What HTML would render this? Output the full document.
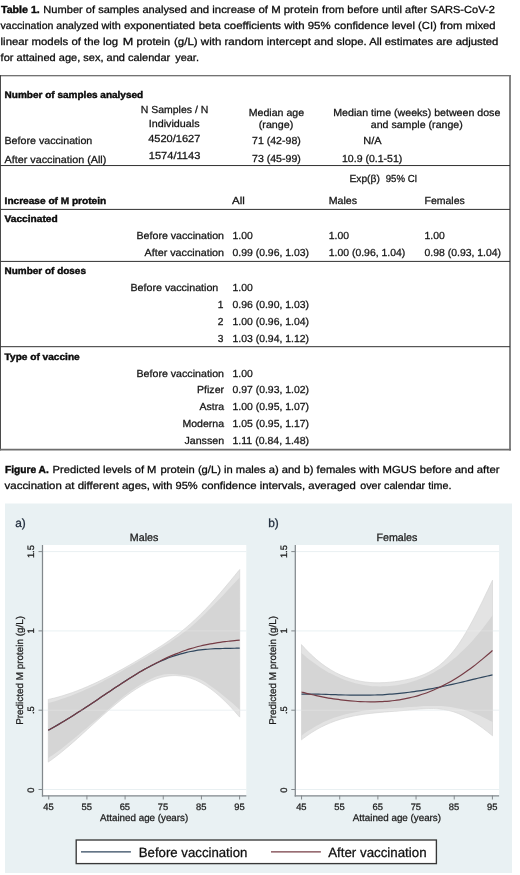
<!DOCTYPE html>
<html lang="en"><head><meta charset="utf-8"><title>Table 1 and Figure A</title>
<style>
html,body{margin:0;padding:0;background:#fff;}
body{width:520px;height:875px;overflow:hidden;}
svg{display:block;font-family:"Liberation Sans",sans-serif;text-rendering:geometricPrecision;filter:blur(0.35px);}
</style></head><body>
<svg width="520" height="875" viewBox="0 0 520 875">
<text x="1.00" y="12.80" font-size="10.3" font-weight="bold" textLength="38.75" lengthAdjust="spacingAndGlyphs" stroke="#0a0a0a" stroke-width="0.41" fill="#0a0a0a">Table 1.</text>
<text x="43.35" y="12.80" font-size="10.3" textLength="143.45" lengthAdjust="spacingAndGlyphs" stroke="#0a0a0a" stroke-width="0.27" fill="#0a0a0a">Number of samples analysed</text>
<text x="190.20" y="12.80" font-size="10.3" textLength="128.40" lengthAdjust="spacingAndGlyphs" stroke="#0a0a0a" stroke-width="0.27" fill="#0a0a0a">and increase of M protein</text>
<text x="322.10" y="12.80" font-size="10.3" textLength="172.70" lengthAdjust="spacingAndGlyphs" stroke="#0a0a0a" stroke-width="0.27" fill="#0a0a0a">from before until after SARS-CoV-2</text>
<text x="0.60" y="29.00" font-size="10.3" textLength="98.00" lengthAdjust="spacingAndGlyphs" stroke="#0a0a0a" stroke-width="0.27" fill="#0a0a0a">vaccination analyzed</text>
<text x="101.50" y="29.00" font-size="10.3" textLength="19.30" lengthAdjust="spacingAndGlyphs" stroke="#0a0a0a" stroke-width="0.27" fill="#0a0a0a">with</text>
<text x="124.00" y="29.00" font-size="10.3" textLength="70.95" lengthAdjust="spacingAndGlyphs" stroke="#0a0a0a" stroke-width="0.27" fill="#0a0a0a">exponentiated</text>
<text x="198.70" y="29.00" font-size="10.3" textLength="131.90" lengthAdjust="spacingAndGlyphs" stroke="#0a0a0a" stroke-width="0.27" fill="#0a0a0a">beta coefficients with 95%</text>
<text x="334.35" y="29.00" font-size="10.3" textLength="161.25" lengthAdjust="spacingAndGlyphs" stroke="#0a0a0a" stroke-width="0.27" fill="#0a0a0a">confidence level (CI) from mixed</text>
<text x="0.60" y="45.10" font-size="10.3" textLength="117.60" lengthAdjust="spacingAndGlyphs" stroke="#0a0a0a" stroke-width="0.27" fill="#0a0a0a">linear models of the log</text>
<text x="122.70" y="45.10" font-size="10.3" textLength="10.50" lengthAdjust="spacingAndGlyphs" stroke="#0a0a0a" stroke-width="0.27" fill="#0a0a0a">M</text>
<text x="136.50" y="45.10" font-size="10.3" textLength="33.70" lengthAdjust="spacingAndGlyphs" stroke="#0a0a0a" stroke-width="0.27" fill="#0a0a0a">protein</text>
<text x="174.00" y="45.10" font-size="10.3" textLength="159.30" lengthAdjust="spacingAndGlyphs" stroke="#0a0a0a" stroke-width="0.27" fill="#0a0a0a">(g/L) with random intercept and</text>
<text x="336.50" y="45.10" font-size="10.3" textLength="161.90" lengthAdjust="spacingAndGlyphs" stroke="#0a0a0a" stroke-width="0.27" fill="#0a0a0a">slope. All estimates are adjusted</text>
<text x="0.60" y="61.30" font-size="10.3" textLength="169.60" lengthAdjust="spacingAndGlyphs" stroke="#0a0a0a" stroke-width="0.27" fill="#0a0a0a">for attained age, sex, and calendar</text>
<text x="175.20" y="61.30" font-size="10.3" textLength="23.75" lengthAdjust="spacingAndGlyphs" stroke="#0a0a0a" stroke-width="0.27" fill="#0a0a0a">year.</text>
<line x1="0" y1="75.8" x2="510.9" y2="75.8" stroke="#444" stroke-width="1.1"/>
<line x1="0.45" y1="75.3" x2="0.45" y2="450.4" stroke="#2a2a2a" stroke-width="0.9"/>
<line x1="510" y1="75.3" x2="510" y2="450.5" stroke="#777" stroke-width="1.8"/>
<line x1="0" y1="449.6" x2="510.9" y2="449.6" stroke="#6e6e6e" stroke-width="1.8"/>
<line x1="0.5" y1="165.55" x2="510" y2="165.55" stroke="#303030" stroke-width="1.0"/>
<line x1="0.5" y1="209.4" x2="510" y2="209.4" stroke="#303030" stroke-width="1.0"/>
<line x1="0.5" y1="261.4" x2="510" y2="261.4" stroke="#303030" stroke-width="1.0"/>
<line x1="0.5" y1="346.7" x2="510" y2="346.7" stroke="#303030" stroke-width="1.0"/>
<text x="4.60" y="98.30" font-size="9.6" font-weight="bold" textLength="138.60" lengthAdjust="spacingAndGlyphs" stroke="#0c0c0c" stroke-width="0.41" fill="#0c0c0c">Number of samples analysed</text>
<text x="140.75" y="113.45" font-size="10.2" textLength="67.55" lengthAdjust="spacingAndGlyphs" stroke="#151515" stroke-width="0.27" fill="#151515">N Samples / N</text>
<text x="148.75" y="126.70" font-size="10.2" textLength="50.80" lengthAdjust="spacingAndGlyphs" stroke="#151515" stroke-width="0.27" fill="#151515">Individuals</text>
<text x="248.75" y="115.95" font-size="10.2" textLength="55.30" lengthAdjust="spacingAndGlyphs" stroke="#151515" stroke-width="0.27" fill="#151515">Median age</text>
<text x="258.75" y="127.90" font-size="10.2" textLength="34.55" lengthAdjust="spacingAndGlyphs" stroke="#151515" stroke-width="0.27" fill="#151515">(range)</text>
<text x="333.25" y="115.95" font-size="10.2" textLength="167.05" lengthAdjust="spacingAndGlyphs" stroke="#151515" stroke-width="0.27" fill="#151515">Median time (weeks) between dose</text>
<text x="370.75" y="127.90" font-size="10.2" textLength="92.05" lengthAdjust="spacingAndGlyphs" stroke="#151515" stroke-width="0.27" fill="#151515">and sample (range)</text>
<text x="4.50" y="144.30" font-size="10.2" textLength="87.80" lengthAdjust="spacingAndGlyphs" stroke="#151515" stroke-width="0.27" fill="#151515">Before vaccination</text>
<text x="148.25" y="142.20" font-size="10.2" textLength="52.05" lengthAdjust="spacingAndGlyphs" stroke="#151515" stroke-width="0.27" fill="#151515">4520/1627</text>
<text x="252.00" y="144.20" font-size="10.2" textLength="48.80" lengthAdjust="spacingAndGlyphs" stroke="#151515" stroke-width="0.27" fill="#151515">71 (42-98)</text>
<text x="363.25" y="144.20" font-size="10.2" textLength="18.30" lengthAdjust="spacingAndGlyphs" stroke="#151515" stroke-width="0.27" fill="#151515">N/A</text>
<text x="4.50" y="162.50" font-size="10.2" textLength="101.80" lengthAdjust="spacingAndGlyphs" stroke="#151515" stroke-width="0.27" fill="#151515">After vaccination (All)</text>
<text x="148.75" y="159.30" font-size="10.2" textLength="51.55" lengthAdjust="spacingAndGlyphs" stroke="#151515" stroke-width="0.27" fill="#151515">1574/1143</text>
<text x="252.00" y="162.20" font-size="10.2" textLength="48.80" lengthAdjust="spacingAndGlyphs" stroke="#151515" stroke-width="0.27" fill="#151515">73 (45-99)</text>
<text x="342.00" y="162.20" font-size="10.2" textLength="60.30" lengthAdjust="spacingAndGlyphs" stroke="#151515" stroke-width="0.27" fill="#151515">10.9 (0.1-51)</text>
<text x="349.50" y="182.20" font-size="10.2" textLength="30.30" lengthAdjust="spacingAndGlyphs" stroke="#151515" stroke-width="0.27" fill="#151515">Exp(β)</text>
<text x="385.75" y="182.20" font-size="10.2" textLength="31.55" lengthAdjust="spacingAndGlyphs" stroke="#151515" stroke-width="0.27" fill="#151515">95% CI</text>
<text x="4.60" y="204.20" font-size="9.6" font-weight="bold" textLength="101.60" lengthAdjust="spacingAndGlyphs" stroke="#0c0c0c" stroke-width="0.41" fill="#0c0c0c">Increase of M protein</text>
<text x="232.00" y="204.20" font-size="10.2" textLength="12.80" lengthAdjust="spacingAndGlyphs" stroke="#151515" stroke-width="0.27" fill="#151515">All</text>
<text x="328.75" y="204.20" font-size="10.2" textLength="28.30" lengthAdjust="spacingAndGlyphs" stroke="#151515" stroke-width="0.27" fill="#151515">Males</text>
<text x="424.50" y="204.20" font-size="10.2" textLength="40.30" lengthAdjust="spacingAndGlyphs" stroke="#151515" stroke-width="0.27" fill="#151515">Females</text>
<text x="4.60" y="222.20" font-size="9.6" font-weight="bold" textLength="53.10" lengthAdjust="spacingAndGlyphs" stroke="#0c0c0c" stroke-width="0.41" fill="#0c0c0c">Vaccinated</text>
<text x="136.50" y="238.95" font-size="10.2" textLength="87.55" lengthAdjust="spacingAndGlyphs" stroke="#151515" stroke-width="0.27" fill="#151515">Before vaccination</text>
<text x="232.50" y="238.95" font-size="10.2" textLength="20.30" lengthAdjust="spacingAndGlyphs" stroke="#151515" stroke-width="0.27" fill="#151515">1.00</text>
<text x="328.75" y="238.95" font-size="10.2" textLength="20.30" lengthAdjust="spacingAndGlyphs" stroke="#151515" stroke-width="0.27" fill="#151515">1.00</text>
<text x="424.50" y="238.95" font-size="10.2" textLength="20.30" lengthAdjust="spacingAndGlyphs" stroke="#151515" stroke-width="0.27" fill="#151515">1.00</text>
<text x="144.50" y="256.20" font-size="10.2" textLength="79.55" lengthAdjust="spacingAndGlyphs" stroke="#151515" stroke-width="0.27" fill="#151515">After vaccination</text>
<text x="232.50" y="256.20" font-size="10.2" textLength="76.55" lengthAdjust="spacingAndGlyphs" stroke="#151515" stroke-width="0.27" fill="#151515">0.99 (0.96, 1.03)</text>
<text x="328.75" y="256.20" font-size="10.2" textLength="76.55" lengthAdjust="spacingAndGlyphs" stroke="#151515" stroke-width="0.27" fill="#151515">1.00 (0.96, 1.04)</text>
<text x="424.50" y="256.20" font-size="10.2" textLength="76.60" lengthAdjust="spacingAndGlyphs" stroke="#151515" stroke-width="0.27" fill="#151515">0.98 (0.93, 1.04)</text>
<text x="4.60" y="274.20" font-size="9.6" font-weight="bold" textLength="81.35" lengthAdjust="spacingAndGlyphs" stroke="#0c0c0c" stroke-width="0.41" fill="#0c0c0c">Number of doses</text>
<text x="130.50" y="290.95" font-size="10.2" textLength="87.80" lengthAdjust="spacingAndGlyphs" stroke="#151515" stroke-width="0.27" fill="#151515">Before vaccination</text>
<text x="232.50" y="290.95" font-size="10.2" textLength="20.30" lengthAdjust="spacingAndGlyphs" stroke="#151515" stroke-width="0.27" fill="#151515">1.00</text>
<text x="223.50" y="308.00" font-size="10.2" text-anchor="end" stroke="#151515" stroke-width="0.27" fill="#151515">1</text>
<text x="232.50" y="307.70" font-size="10.2" textLength="76.55" lengthAdjust="spacingAndGlyphs" stroke="#151515" stroke-width="0.27" fill="#151515">0.96 (0.90, 1.03)</text>
<text x="223.50" y="325.00" font-size="10.2" text-anchor="end" stroke="#151515" stroke-width="0.27" fill="#151515">2</text>
<text x="232.50" y="324.70" font-size="10.2" textLength="76.55" lengthAdjust="spacingAndGlyphs" stroke="#151515" stroke-width="0.27" fill="#151515">1.00 (0.96, 1.04)</text>
<text x="223.50" y="342.00" font-size="10.2" text-anchor="end" stroke="#151515" stroke-width="0.27" fill="#151515">3</text>
<text x="232.50" y="341.70" font-size="10.2" textLength="76.55" lengthAdjust="spacingAndGlyphs" stroke="#151515" stroke-width="0.27" fill="#151515">1.03 (0.94, 1.12)</text>
<text x="4.60" y="359.70" font-size="9.6" font-weight="bold" textLength="75.10" lengthAdjust="spacingAndGlyphs" stroke="#0c0c0c" stroke-width="0.41" fill="#0c0c0c">Type of vaccine</text>
<text x="136.50" y="376.70" font-size="10.2" textLength="87.55" lengthAdjust="spacingAndGlyphs" stroke="#151515" stroke-width="0.27" fill="#151515">Before vaccination</text>
<text x="232.50" y="376.70" font-size="10.2" textLength="20.30" lengthAdjust="spacingAndGlyphs" stroke="#151515" stroke-width="0.27" fill="#151515">1.00</text>
<text x="197.00" y="393.45" font-size="10.2" textLength="27.05" lengthAdjust="spacingAndGlyphs" stroke="#151515" stroke-width="0.27" fill="#151515">Pfizer</text>
<text x="232.50" y="393.45" font-size="10.2" textLength="76.55" lengthAdjust="spacingAndGlyphs" stroke="#151515" stroke-width="0.27" fill="#151515">0.97 (0.93, 1.02)</text>
<text x="199.50" y="410.25" font-size="10.2" textLength="24.55" lengthAdjust="spacingAndGlyphs" stroke="#151515" stroke-width="0.27" fill="#151515">Astra</text>
<text x="232.50" y="410.25" font-size="10.2" textLength="76.55" lengthAdjust="spacingAndGlyphs" stroke="#151515" stroke-width="0.27" fill="#151515">1.00 (0.95, 1.07)</text>
<text x="182.50" y="427.05" font-size="10.2" textLength="41.55" lengthAdjust="spacingAndGlyphs" stroke="#151515" stroke-width="0.27" fill="#151515">Moderna</text>
<text x="232.50" y="427.05" font-size="10.2" textLength="76.55" lengthAdjust="spacingAndGlyphs" stroke="#151515" stroke-width="0.27" fill="#151515">1.05 (0.95, 1.17)</text>
<text x="184.50" y="443.85" font-size="10.2" textLength="39.55" lengthAdjust="spacingAndGlyphs" stroke="#151515" stroke-width="0.27" fill="#151515">Janssen</text>
<text x="232.50" y="443.85" font-size="10.2" textLength="76.55" lengthAdjust="spacingAndGlyphs" stroke="#151515" stroke-width="0.27" fill="#151515">1.11 (0.84, 1.48)</text>
<text x="5.00" y="472.60" font-size="10.3" font-weight="bold" textLength="43.75" lengthAdjust="spacingAndGlyphs" stroke="#0a0a0a" stroke-width="0.41" fill="#0a0a0a">Figure A.</text>
<text x="52.60" y="472.60" font-size="10.3" textLength="103.85" lengthAdjust="spacingAndGlyphs" stroke="#0a0a0a" stroke-width="0.27" fill="#0a0a0a">Predicted levels of M</text>
<text x="160.60" y="472.60" font-size="10.3" textLength="195.20" lengthAdjust="spacingAndGlyphs" stroke="#0a0a0a" stroke-width="0.27" fill="#0a0a0a">protein (g/L) in males a) and b) females</text>
<text x="359.35" y="472.60" font-size="10.3" textLength="140.10" lengthAdjust="spacingAndGlyphs" stroke="#0a0a0a" stroke-width="0.27" fill="#0a0a0a">with MGUS before and after</text>
<text x="4.60" y="488.70" font-size="10.3" textLength="145.40" lengthAdjust="spacingAndGlyphs" stroke="#0a0a0a" stroke-width="0.27" fill="#0a0a0a">vaccination at different ages,</text>
<text x="152.70" y="488.70" font-size="10.3" textLength="45.00" lengthAdjust="spacingAndGlyphs" stroke="#0a0a0a" stroke-width="0.27" fill="#0a0a0a">with 95%</text>
<text x="201.50" y="488.70" font-size="10.3" textLength="154.30" lengthAdjust="spacingAndGlyphs" stroke="#0a0a0a" stroke-width="0.27" fill="#0a0a0a">confidence intervals, averaged</text>
<text x="360.20" y="488.70" font-size="10.3" textLength="91.25" lengthAdjust="spacingAndGlyphs" stroke="#0a0a0a" stroke-width="0.27" fill="#0a0a0a">over calendar time.</text>
<rect x="5" y="503.5" width="507" height="369.5" fill="#e9f1f3"/>
<rect x="42.50" y="545.0" width="203.80" height="250.5" fill="#fff"/>
<line x1="42.50" y1="789.50" x2="246.30" y2="789.50" stroke="#e9f0f2" stroke-width="1"/>
<line x1="42.50" y1="710.20" x2="246.30" y2="710.20" stroke="#e9f0f2" stroke-width="1"/>
<line x1="42.50" y1="630.90" x2="246.30" y2="630.90" stroke="#e9f0f2" stroke-width="1"/>
<line x1="42.50" y1="551.60" x2="246.30" y2="551.60" stroke="#e9f0f2" stroke-width="1"/>
<path d="M48.30,699.45 C49.12,699.26 51.57,698.73 53.21,698.34 C54.84,697.94 56.48,697.51 58.12,697.07 C59.75,696.62 61.39,696.14 63.02,695.65 C64.66,695.15 66.29,694.63 67.93,694.08 C69.57,693.54 71.20,692.97 72.84,692.39 C74.47,691.80 76.11,691.19 77.75,690.56 C79.38,689.93 81.02,689.28 82.65,688.61 C84.29,687.94 85.93,687.25 87.56,686.54 C89.20,685.84 90.83,685.11 92.47,684.37 C94.11,683.62 95.74,682.86 97.38,682.09 C99.01,681.31 100.65,680.52 102.28,679.71 C103.92,678.90 105.56,678.08 107.19,677.24 C108.83,676.41 110.46,675.55 112.10,674.69 C113.74,673.83 115.37,672.95 117.01,672.06 C118.64,671.17 120.28,670.27 121.92,669.36 C123.55,668.45 125.19,667.53 126.82,666.60 C128.46,665.67 130.09,664.72 131.73,663.77 C133.37,662.83 135.00,661.87 136.64,660.90 C138.27,659.94 139.91,658.96 141.55,657.98 C143.18,657.00 144.82,656.02 146.45,655.02 C148.09,654.03 149.73,653.04 151.36,652.03 C153.00,651.03 154.63,650.03 156.27,649.00 C157.91,647.98 159.54,646.95 161.18,645.90 C162.81,644.84 164.45,643.77 166.08,642.67 C167.72,641.57 169.36,640.45 170.99,639.30 C172.63,638.14 174.26,636.95 175.90,635.73 C177.54,634.50 179.17,633.24 180.81,631.94 C182.44,630.64 184.08,629.30 185.72,627.92 C187.35,626.54 188.99,625.13 190.62,623.67 C192.26,622.21 193.89,620.72 195.53,619.18 C197.17,617.65 198.80,616.07 200.44,614.45 C202.07,612.83 203.71,611.18 205.35,609.48 C206.98,607.77 208.62,606.03 210.25,604.25 C211.89,602.47 213.53,600.64 215.16,598.79 C216.80,596.94 218.43,595.05 220.07,593.15 C221.71,591.24 223.34,589.31 224.98,587.36 C226.61,585.42 228.25,583.44 229.88,581.47 C231.52,579.50 233.16,577.51 234.79,575.52 C236.43,573.53 238.88,570.54 239.70,569.55 L239.70,717.12 C238.88,716.17 236.43,713.28 234.79,711.44 C233.16,709.61 231.52,707.83 229.88,706.10 C228.25,704.38 226.61,702.72 224.98,701.12 C223.34,699.52 221.71,697.98 220.07,696.51 C218.43,695.05 216.80,693.64 215.16,692.31 C213.53,690.98 211.89,689.72 210.25,688.54 C208.62,687.36 206.98,686.25 205.35,685.22 C203.71,684.19 202.07,683.24 200.44,682.38 C198.80,681.51 197.17,680.73 195.53,680.03 C193.89,679.33 192.26,678.71 190.62,678.17 C188.99,677.64 187.35,677.19 185.72,676.81 C184.08,676.44 182.44,676.15 180.81,675.95 C179.17,675.74 177.54,675.61 175.90,675.57 C174.26,675.52 172.63,675.56 170.99,675.68 C169.36,675.80 167.72,676.00 166.08,676.28 C164.45,676.56 162.81,676.92 161.18,677.35 C159.54,677.78 157.91,678.29 156.27,678.86 C154.63,679.43 153.00,680.08 151.36,680.78 C149.73,681.49 148.09,682.26 146.45,683.09 C144.82,683.91 143.18,684.80 141.55,685.74 C139.91,686.67 138.27,687.67 136.64,688.71 C135.00,689.74 133.37,690.84 131.73,691.96 C130.09,693.09 128.46,694.27 126.82,695.48 C125.19,696.69 123.55,697.94 121.92,699.23 C120.28,700.51 118.64,701.83 117.01,703.17 C115.37,704.51 113.74,705.88 112.10,707.28 C110.46,708.67 108.83,710.09 107.19,711.52 C105.56,712.95 103.92,714.41 102.28,715.87 C100.65,717.34 99.01,718.82 97.38,720.30 C95.74,721.78 94.11,723.28 92.47,724.77 C90.83,726.27 89.20,727.77 87.56,729.26 C85.93,730.75 84.29,732.25 82.65,733.73 C81.02,735.22 79.38,736.70 77.75,738.16 C76.11,739.62 74.47,741.08 72.84,742.51 C71.20,743.94 69.57,745.36 67.93,746.75 C66.29,748.14 64.66,749.52 63.02,750.86 C61.39,752.20 59.75,753.51 58.12,754.79 C56.48,756.07 54.84,757.33 53.21,758.53 C51.57,759.74 49.12,761.46 48.30,762.05 Z" fill="#e3e3e3" stroke="#d6d6d6" stroke-width="0.7"/>
<path d="M48.30,702.94 C49.12,702.72 51.57,702.10 53.21,701.64 C54.84,701.18 56.48,700.70 58.12,700.19 C59.75,699.68 61.39,699.15 63.02,698.59 C64.66,698.03 66.29,697.45 67.93,696.85 C69.57,696.24 71.20,695.61 72.84,694.97 C74.47,694.33 76.11,693.67 77.75,693.01 C79.38,692.34 81.02,691.66 82.65,690.96 C84.29,690.26 85.93,689.53 87.56,688.79 C89.20,688.05 90.83,687.29 92.47,686.52 C94.11,685.74 95.74,684.95 97.38,684.14 C99.01,683.33 100.65,682.50 102.28,681.66 C103.92,680.82 105.56,679.97 107.19,679.10 C108.83,678.23 110.46,677.35 112.10,676.45 C113.74,675.55 115.37,674.64 117.01,673.72 C118.64,672.80 120.28,671.86 121.92,670.92 C123.55,669.99 125.19,669.04 126.82,668.11 C128.46,667.18 130.09,666.27 131.73,665.33 C133.37,664.39 135.00,663.45 136.64,662.49 C138.27,661.54 139.91,660.58 141.55,659.61 C143.18,658.65 144.82,657.67 146.45,656.70 C148.09,655.72 149.73,654.74 151.36,653.77 C153.00,652.79 154.63,651.84 156.27,650.85 C157.91,649.87 159.54,648.88 161.18,647.86 C162.81,646.85 164.45,645.82 166.08,644.76 C167.72,643.70 169.36,642.61 170.99,641.50 C172.63,640.39 174.26,639.23 175.90,638.10 C177.54,636.97 179.17,635.87 180.81,634.70 C182.44,633.53 184.08,632.33 185.72,631.08 C187.35,629.82 188.99,628.56 190.62,627.19 C192.26,625.82 193.89,624.33 195.53,622.84 C197.17,621.36 198.80,619.83 200.44,618.26 C202.07,616.69 203.71,615.04 205.35,613.43 C206.98,611.81 208.62,610.21 210.25,608.57 C211.89,606.94 213.53,605.29 215.16,603.61 C216.80,601.92 218.43,600.20 220.07,598.46 C221.71,596.71 223.34,594.90 224.98,593.16 C226.61,591.42 228.25,589.74 229.88,588.02 C231.52,586.30 233.16,584.56 234.79,582.82 C236.43,581.08 238.88,578.47 239.70,577.60 L239.70,709.68 C238.88,708.92 236.43,706.59 234.79,705.13 C233.16,703.66 231.52,702.25 229.88,700.90 C228.25,699.55 226.61,698.35 224.98,697.02 C223.34,695.70 221.71,694.24 220.07,692.95 C218.43,691.66 216.80,690.48 215.16,689.28 C213.53,688.07 211.89,686.87 210.25,685.72 C208.62,684.57 206.98,683.40 205.35,682.36 C203.71,681.32 202.07,680.30 200.44,679.48 C198.80,678.66 197.17,678.04 195.53,677.46 C193.89,676.89 192.26,676.40 190.62,676.02 C188.99,675.65 187.35,675.39 185.72,675.19 C184.08,675.00 182.44,675.01 180.81,674.86 C179.17,674.70 177.54,674.41 175.90,674.27 C174.26,674.13 172.63,674.01 170.99,674.03 C169.36,674.04 167.72,674.16 166.08,674.36 C164.45,674.56 162.81,674.85 161.18,675.22 C159.54,675.60 157.91,676.01 156.27,676.59 C154.63,677.16 153.00,677.92 151.36,678.68 C149.73,679.44 148.09,680.27 146.45,681.16 C144.82,682.04 143.18,683.00 141.55,683.98 C139.91,684.96 138.27,685.98 136.64,687.05 C135.00,688.11 133.37,689.22 131.73,690.37 C130.09,691.52 128.46,692.72 126.82,693.95 C125.19,695.18 123.55,696.45 121.92,697.75 C120.28,699.05 118.64,700.39 117.01,701.76 C115.37,703.12 113.74,704.51 112.10,705.93 C110.46,707.34 108.83,708.78 107.19,710.23 C105.56,711.69 103.92,713.20 102.28,714.65 C100.65,716.09 99.01,717.52 97.38,718.92 C95.74,720.33 94.11,721.68 92.47,723.06 C90.83,724.44 89.20,725.83 87.56,727.21 C85.93,728.60 84.29,729.98 82.65,731.35 C81.02,732.72 79.38,734.08 77.75,735.45 C76.11,736.81 74.47,738.17 72.84,739.52 C71.20,740.87 69.57,742.24 67.93,743.56 C66.29,744.89 64.66,746.19 63.02,747.47 C61.39,748.74 59.75,749.99 58.12,751.21 C56.48,752.42 54.84,753.60 53.21,754.75 C51.57,755.89 49.12,757.51 48.30,758.06 Z" fill="#d5d5d5"/>
<path d="M48.30,730.33 C49.12,729.86 51.57,728.45 53.21,727.50 C54.84,726.55 56.48,725.60 58.12,724.64 C59.75,723.67 61.39,722.70 63.02,721.72 C64.66,720.74 66.29,719.74 67.93,718.74 C69.57,717.74 71.20,716.72 72.84,715.70 C74.47,714.68 76.11,713.64 77.75,712.60 C79.38,711.56 81.02,710.50 82.65,709.44 C84.29,708.38 85.93,707.31 87.56,706.23 C89.20,705.15 90.83,704.06 92.47,702.97 C94.11,701.88 95.74,700.78 97.38,699.68 C99.01,698.58 100.65,697.47 102.28,696.37 C103.92,695.27 105.56,694.16 107.19,693.05 C108.83,691.95 110.46,690.84 112.10,689.74 C113.74,688.65 115.37,687.55 117.01,686.46 C118.64,685.38 120.28,684.29 121.92,683.22 C123.55,682.16 125.19,681.09 126.82,680.05 C128.46,679.00 130.09,677.97 131.73,676.95 C133.37,675.93 135.00,674.93 136.64,673.95 C138.27,672.97 139.91,672.00 141.55,671.06 C143.18,670.12 144.82,669.20 146.45,668.31 C148.09,667.42 149.73,666.55 151.36,665.70 C153.00,664.86 154.63,664.05 156.27,663.26 C157.91,662.48 159.54,661.72 161.18,660.99 C162.81,660.27 164.45,659.57 166.08,658.91 C167.72,658.25 169.36,657.61 170.99,657.02 C172.63,656.42 174.26,655.86 175.90,655.33 C177.54,654.80 179.17,654.30 180.81,653.84 C182.44,653.38 184.08,652.96 185.72,652.56 C187.35,652.17 188.99,651.81 190.62,651.48 C192.26,651.16 193.89,650.86 195.53,650.60 C197.17,650.33 198.80,650.10 200.44,649.90 C202.07,649.69 203.71,649.52 205.35,649.37 C206.98,649.21 208.62,649.09 210.25,648.98 C211.89,648.88 213.53,648.79 215.16,648.72 C216.80,648.65 218.43,648.61 220.07,648.56 C221.71,648.52 223.34,648.49 224.98,648.46 C226.61,648.43 228.25,648.41 229.88,648.38 C231.52,648.34 233.16,648.32 234.79,648.27 C236.43,648.22 238.88,648.11 239.70,648.08" fill="none" stroke="#30475e" stroke-width="1.2"/>
<path d="M48.30,730.34 C49.12,729.87 51.57,728.49 53.21,727.54 C54.84,726.60 56.48,725.65 58.12,724.68 C59.75,723.71 61.39,722.74 63.02,721.75 C64.66,720.76 66.29,719.76 67.93,718.75 C69.57,717.74 71.20,716.72 72.84,715.69 C74.47,714.66 76.11,713.62 77.75,712.57 C79.38,711.52 81.02,710.46 82.65,709.40 C84.29,708.33 85.93,707.26 87.56,706.18 C89.20,705.11 90.83,704.02 92.47,702.93 C94.11,701.85 95.74,700.75 97.38,699.66 C99.01,698.57 100.65,697.47 102.28,696.37 C103.92,695.28 105.56,694.18 107.19,693.08 C108.83,691.99 110.46,690.90 112.10,689.81 C113.74,688.72 115.37,687.63 117.01,686.55 C118.64,685.47 120.28,684.40 121.92,683.34 C123.55,682.27 125.19,681.21 126.82,680.17 C128.46,679.12 130.09,678.08 131.73,677.06 C133.37,676.04 135.00,675.03 136.64,674.03 C138.27,673.04 139.91,672.05 141.55,671.09 C143.18,670.13 144.82,669.18 146.45,668.25 C148.09,667.32 149.73,666.41 151.36,665.52 C153.00,664.63 154.63,663.76 156.27,662.91 C157.91,662.06 159.54,661.23 161.18,660.43 C162.81,659.63 164.45,658.85 166.08,658.09 C167.72,657.34 169.36,656.60 170.99,655.90 C172.63,655.19 174.26,654.51 175.90,653.86 C177.54,653.20 179.17,652.57 180.81,651.97 C182.44,651.37 184.08,650.79 185.72,650.24 C187.35,649.69 188.99,649.17 190.62,648.67 C192.26,648.18 193.89,647.71 195.53,647.26 C197.17,646.82 198.80,646.40 200.44,646.00 C202.07,645.60 203.71,645.23 205.35,644.88 C206.98,644.54 208.62,644.21 210.25,643.91 C211.89,643.60 213.53,643.32 215.16,643.05 C216.80,642.79 218.43,642.54 220.07,642.31 C221.71,642.08 223.34,641.86 224.98,641.66 C226.61,641.45 228.25,641.27 229.88,641.08 C231.52,640.90 233.16,640.72 234.79,640.55 C236.43,640.38 238.88,640.13 239.70,640.04" fill="none" stroke="#763c45" stroke-width="1.2"/>
<line x1="42.50" y1="710.20" x2="246.30" y2="710.20" stroke="#fff" stroke-opacity="0.22" stroke-width="1"/>
<line x1="42.50" y1="630.90" x2="246.30" y2="630.90" stroke="#fff" stroke-opacity="0.22" stroke-width="1"/>
<line x1="42.50" y1="545.0" x2="42.50" y2="796.5" stroke="#82888c" stroke-width="1.25"/>
<line x1="41.90" y1="795.95" x2="246.30" y2="795.95" stroke="#82888c" stroke-width="1.25"/>
<line x1="38.50" y1="789.50" x2="42.50" y2="789.50" stroke="#82888c" stroke-width="1"/>
<text transform="translate(34.20,790.20) rotate(-90)" text-anchor="middle" font-size="9.4" fill="#1c1c1c" stroke="#1c1c1c" stroke-width="0.27">0</text>
<line x1="38.50" y1="710.20" x2="42.50" y2="710.20" stroke="#82888c" stroke-width="1"/>
<text transform="translate(34.20,710.20) rotate(-90)" text-anchor="middle" font-size="9.4" fill="#1c1c1c" stroke="#1c1c1c" stroke-width="0.27">.5</text>
<line x1="38.50" y1="630.90" x2="42.50" y2="630.90" stroke="#82888c" stroke-width="1"/>
<text transform="translate(34.20,630.90) rotate(-90)" text-anchor="middle" font-size="9.4" fill="#1c1c1c" stroke="#1c1c1c" stroke-width="0.27">1</text>
<line x1="38.50" y1="551.60" x2="42.50" y2="551.60" stroke="#82888c" stroke-width="1"/>
<text transform="translate(34.20,551.60) rotate(-90)" text-anchor="middle" font-size="9.4" fill="#1c1c1c" stroke="#1c1c1c" stroke-width="0.27">1.5</text>
<line x1="48.75" y1="795.5" x2="48.75" y2="799.5" stroke="#82888c" stroke-width="1"/>
<text x="48.55" y="810.00" font-size="9.4" text-anchor="middle" stroke="#1c1c1c" stroke-width="0.27" fill="#1c1c1c">45</text>
<line x1="86.92" y1="795.5" x2="86.92" y2="799.5" stroke="#82888c" stroke-width="1"/>
<text x="86.72" y="810.00" font-size="9.4" text-anchor="middle" stroke="#1c1c1c" stroke-width="0.27" fill="#1c1c1c">55</text>
<line x1="125.09" y1="795.5" x2="125.09" y2="799.5" stroke="#82888c" stroke-width="1"/>
<text x="124.89" y="810.00" font-size="9.4" text-anchor="middle" stroke="#1c1c1c" stroke-width="0.27" fill="#1c1c1c">65</text>
<line x1="163.26" y1="795.5" x2="163.26" y2="799.5" stroke="#82888c" stroke-width="1"/>
<text x="163.06" y="810.00" font-size="9.4" text-anchor="middle" stroke="#1c1c1c" stroke-width="0.27" fill="#1c1c1c">75</text>
<line x1="201.43" y1="795.5" x2="201.43" y2="799.5" stroke="#82888c" stroke-width="1"/>
<text x="201.23" y="810.00" font-size="9.4" text-anchor="middle" stroke="#1c1c1c" stroke-width="0.27" fill="#1c1c1c">85</text>
<line x1="239.60" y1="795.5" x2="239.60" y2="799.5" stroke="#82888c" stroke-width="1"/>
<text x="239.40" y="810.00" font-size="9.4" text-anchor="middle" stroke="#1c1c1c" stroke-width="0.27" fill="#1c1c1c">95</text>
<text x="100.00" y="820.90" font-size="9.8" textLength="88.25" lengthAdjust="spacingAndGlyphs" stroke="#1c1c1c" stroke-width="0.27" fill="#1c1c1c">Attained age (years)</text>
<text transform="translate(22.90,724.8) rotate(-90)" font-size="9.8" textLength="108.8" lengthAdjust="spacingAndGlyphs" fill="#1c1c1c" stroke="#1c1c1c" stroke-width="0.27">Predicted M protein (g/L)</text>
<text x="144.10" y="541.00" font-size="10.7" text-anchor="middle" stroke="#1c1c1c" stroke-width="0.27" fill="#1c1c1c">Males</text>
<text x="15.20" y="526.80" font-size="11.9" stroke="#1e2a3a" stroke-width="0.27" fill="#1e2a3a">a)</text>
<rect x="295.30" y="545.0" width="203.80" height="250.5" fill="#fff"/>
<line x1="295.30" y1="789.50" x2="499.10" y2="789.50" stroke="#e9f0f2" stroke-width="1"/>
<line x1="295.30" y1="710.20" x2="499.10" y2="710.20" stroke="#e9f0f2" stroke-width="1"/>
<line x1="295.30" y1="630.90" x2="499.10" y2="630.90" stroke="#e9f0f2" stroke-width="1"/>
<line x1="295.30" y1="551.60" x2="499.10" y2="551.60" stroke="#e9f0f2" stroke-width="1"/>
<path d="M301.50,644.62 C302.32,645.51 304.76,648.28 306.40,649.98 C308.03,651.69 309.66,653.31 311.29,654.86 C312.93,656.41 314.56,657.88 316.19,659.28 C317.82,660.68 319.46,662.01 321.09,663.26 C322.72,664.51 324.35,665.69 325.99,666.81 C327.62,667.92 329.25,668.97 330.88,669.95 C332.52,670.93 334.15,671.84 335.78,672.70 C337.41,673.55 339.05,674.34 340.68,675.08 C342.31,675.81 343.94,676.48 345.58,677.10 C347.21,677.72 348.84,678.27 350.47,678.78 C352.11,679.29 353.74,679.74 355.37,680.15 C357.00,680.55 358.64,680.90 360.27,681.21 C361.90,681.52 363.53,681.77 365.17,681.99 C366.80,682.20 368.43,682.37 370.06,682.50 C371.70,682.63 373.33,682.71 374.96,682.76 C376.59,682.81 378.23,682.82 379.86,682.80 C381.49,682.77 383.12,682.71 384.76,682.62 C386.39,682.53 388.02,682.40 389.65,682.24 C391.29,682.09 392.92,681.90 394.55,681.69 C396.18,681.48 397.82,681.24 399.45,680.98 C401.08,680.72 402.71,680.44 404.35,680.13 C405.98,679.82 407.61,679.50 409.24,679.13 C410.88,678.76 412.51,678.36 414.14,677.91 C415.77,677.46 417.41,676.97 419.04,676.40 C420.67,675.84 422.30,675.23 423.94,674.53 C425.57,673.83 427.20,673.07 428.83,672.21 C430.47,671.35 432.10,670.42 433.73,669.37 C435.36,668.33 437.00,667.19 438.63,665.94 C440.26,664.68 441.89,663.32 443.53,661.83 C445.16,660.34 446.79,658.73 448.42,656.97 C450.06,655.22 451.69,653.33 453.32,651.29 C454.95,649.25 456.59,647.05 458.22,644.71 C459.85,642.36 461.48,639.85 463.12,637.23 C464.75,634.60 466.38,631.83 468.01,628.96 C469.65,626.10 471.28,623.10 472.91,620.04 C474.54,616.97 476.18,613.80 477.81,610.57 C479.44,607.35 481.07,604.04 482.71,600.70 C484.34,597.35 485.97,593.94 487.60,590.53 C489.24,587.11 491.68,581.91 492.50,580.18 L492.50,735.77 C491.68,735.12 489.24,733.13 487.60,731.86 C485.97,730.58 484.34,729.32 482.71,728.10 C481.07,726.89 479.44,725.70 477.81,724.56 C476.18,723.42 474.54,722.32 472.91,721.27 C471.28,720.23 469.65,719.23 468.01,718.29 C466.38,717.36 464.75,716.48 463.12,715.67 C461.48,714.86 459.85,714.12 458.22,713.46 C456.59,712.80 454.95,712.21 453.32,711.70 C451.69,711.19 450.06,710.76 448.42,710.38 C446.79,710.01 445.16,709.71 443.53,709.47 C441.89,709.22 440.26,709.04 438.63,708.89 C437.00,708.75 435.36,708.67 433.73,708.62 C432.10,708.57 430.47,708.57 428.83,708.59 C427.20,708.62 425.57,708.68 423.94,708.76 C422.30,708.85 420.67,708.96 419.04,709.08 C417.41,709.21 415.77,709.36 414.14,709.50 C412.51,709.65 410.88,709.82 409.24,709.98 C407.61,710.13 405.98,710.30 404.35,710.45 C402.71,710.60 401.08,710.74 399.45,710.88 C397.82,711.02 396.18,711.15 394.55,711.27 C392.92,711.40 391.29,711.53 389.65,711.65 C388.02,711.78 386.39,711.90 384.76,712.04 C383.12,712.17 381.49,712.30 379.86,712.44 C378.23,712.59 376.59,712.74 374.96,712.90 C373.33,713.06 371.70,713.23 370.06,713.42 C368.43,713.61 366.80,713.81 365.17,714.04 C363.53,714.26 361.90,714.50 360.27,714.76 C358.64,715.02 357.00,715.31 355.37,715.62 C353.74,715.93 352.11,716.26 350.47,716.63 C348.84,716.99 347.21,717.38 345.58,717.81 C343.94,718.24 342.31,718.69 340.68,719.19 C339.05,719.68 337.41,720.21 335.78,720.78 C334.15,721.35 332.52,721.96 330.88,722.62 C329.25,723.27 327.62,723.97 325.99,724.71 C324.35,725.45 322.72,726.24 321.09,727.08 C319.46,727.92 317.82,728.81 316.19,729.76 C314.56,730.70 312.93,731.70 311.29,732.76 C309.66,733.81 308.03,734.92 306.40,736.10 C304.76,737.27 302.32,739.19 301.50,739.80 Z" fill="#e3e3e3" stroke="#d6d6d6" stroke-width="0.7"/>
<path d="M301.50,653.11 C302.32,653.80 304.76,655.91 306.40,657.23 C308.03,658.56 309.66,659.83 311.29,661.07 C312.93,662.30 314.56,663.48 316.19,664.62 C317.82,665.75 319.46,666.84 321.09,667.89 C322.72,668.93 324.35,669.93 325.99,670.88 C327.62,671.84 329.25,672.74 330.88,673.60 C332.52,674.47 334.15,675.28 335.78,676.06 C337.41,676.83 339.05,677.55 340.68,678.24 C342.31,678.92 343.94,679.56 345.58,680.16 C347.21,680.75 348.84,681.30 350.47,681.81 C352.11,682.32 353.74,682.79 355.37,683.21 C357.00,683.64 358.64,684.02 360.27,684.36 C361.90,684.69 363.53,684.99 365.17,685.25 C366.80,685.50 368.43,685.72 370.06,685.89 C371.70,686.06 373.33,686.20 374.96,686.29 C376.59,686.38 378.23,686.43 379.86,686.44 C381.49,686.45 383.12,686.43 384.76,686.36 C386.39,686.29 388.02,686.18 389.65,686.04 C391.29,685.89 392.92,685.71 394.55,685.48 C396.18,685.26 397.82,685.00 399.45,684.70 C401.08,684.40 402.71,684.06 404.35,683.69 C405.98,683.31 407.61,682.90 409.24,682.45 C410.88,682.00 412.51,681.51 414.14,680.97 C415.77,680.44 417.41,679.86 419.04,679.24 C420.67,678.62 422.30,677.96 423.94,677.25 C425.57,676.54 427.20,675.79 428.83,674.99 C430.47,674.18 432.10,673.33 433.73,672.43 C435.36,671.53 437.00,670.58 438.63,669.57 C440.26,668.57 441.89,667.51 443.53,666.40 C445.16,665.29 446.79,664.13 448.42,662.91 C450.06,661.69 451.69,660.41 453.32,659.08 C454.95,657.74 456.59,656.35 458.22,654.89 C459.85,653.44 461.48,651.93 463.12,650.35 C464.75,648.78 466.38,647.14 468.01,645.44 C469.65,643.75 471.28,641.99 472.91,640.16 C474.54,638.34 476.18,636.46 477.81,634.51 C479.44,632.56 481.07,630.54 482.71,628.47 C484.34,626.39 485.97,624.25 487.60,622.04 C489.24,619.83 491.68,616.35 492.50,615.21 L492.50,721.92 C491.68,721.50 489.24,720.19 487.60,719.38 C485.97,718.56 484.34,717.76 482.71,717.01 C481.07,716.25 479.44,715.52 477.81,714.83 C476.18,714.14 474.54,713.48 472.91,712.86 C471.28,712.24 469.65,711.66 468.01,711.12 C466.38,710.58 464.75,710.08 463.12,709.62 C461.48,709.16 459.85,708.75 458.22,708.38 C456.59,708.01 454.95,707.69 453.32,707.41 C451.69,707.13 450.06,706.90 448.42,706.71 C446.79,706.51 445.16,706.36 443.53,706.24 C441.89,706.12 440.26,706.03 438.63,705.97 C437.00,705.91 435.36,705.89 433.73,705.88 C432.10,705.88 430.47,705.90 428.83,705.94 C427.20,705.98 425.57,706.04 423.94,706.11 C422.30,706.19 420.67,706.28 419.04,706.38 C417.41,706.47 415.77,706.58 414.14,706.70 C412.51,706.81 410.88,706.93 409.24,707.05 C407.61,707.16 405.98,707.29 404.35,707.40 C402.71,707.51 401.08,707.62 399.45,707.73 C397.82,707.83 396.18,707.93 394.55,708.04 C392.92,708.14 391.29,708.24 389.65,708.35 C388.02,708.46 386.39,708.57 384.76,708.69 C383.12,708.80 381.49,708.92 379.86,709.06 C378.23,709.19 376.59,709.33 374.96,709.49 C373.33,709.65 371.70,709.81 370.06,710.00 C368.43,710.18 366.80,710.38 365.17,710.60 C363.53,710.82 361.90,711.05 360.27,711.32 C358.64,711.58 357.00,711.86 355.37,712.17 C353.74,712.47 352.11,712.81 350.47,713.17 C348.84,713.53 347.21,713.92 345.58,714.34 C343.94,714.76 342.31,715.21 340.68,715.70 C339.05,716.19 337.41,716.71 335.78,717.27 C334.15,717.83 332.52,718.43 330.88,719.07 C329.25,719.71 327.62,720.38 325.99,721.11 C324.35,721.83 322.72,722.60 321.09,723.41 C319.46,724.23 317.82,725.09 316.19,726.00 C314.56,726.92 312.93,727.88 311.29,728.89 C309.66,729.91 308.03,730.98 306.40,732.11 C304.76,733.23 302.32,735.06 301.50,735.66 Z" fill="#d5d5d5"/>
<path d="M301.50,694.06 C302.32,694.05 304.76,694.03 306.40,694.04 C308.03,694.04 309.66,694.05 311.29,694.07 C312.93,694.09 314.56,694.12 316.19,694.16 C317.82,694.19 319.46,694.23 321.09,694.27 C322.72,694.32 324.35,694.37 325.99,694.42 C327.62,694.46 329.25,694.52 330.88,694.57 C332.52,694.62 334.15,694.67 335.78,694.72 C337.41,694.77 339.05,694.82 340.68,694.87 C342.31,694.91 343.94,694.96 345.58,694.99 C347.21,695.03 348.84,695.07 350.47,695.10 C352.11,695.12 353.74,695.15 355.37,695.16 C357.00,695.18 358.64,695.19 360.27,695.19 C361.90,695.19 363.53,695.19 365.17,695.17 C366.80,695.16 368.43,695.14 370.06,695.10 C371.70,695.07 373.33,695.03 374.96,694.98 C376.59,694.93 378.23,694.86 379.86,694.79 C381.49,694.72 383.12,694.64 384.76,694.54 C386.39,694.45 388.02,694.34 389.65,694.22 C391.29,694.11 392.92,693.98 394.55,693.84 C396.18,693.70 397.82,693.55 399.45,693.38 C401.08,693.22 402.71,693.04 404.35,692.86 C405.98,692.67 407.61,692.47 409.24,692.26 C410.88,692.05 412.51,691.83 414.14,691.59 C415.77,691.36 417.41,691.12 419.04,690.86 C420.67,690.61 422.30,690.34 423.94,690.06 C425.57,689.79 427.20,689.50 428.83,689.20 C430.47,688.90 432.10,688.60 433.73,688.28 C435.36,687.96 437.00,687.64 438.63,687.30 C440.26,686.97 441.89,686.63 443.53,686.28 C445.16,685.93 446.79,685.57 448.42,685.21 C450.06,684.85 451.69,684.48 453.32,684.10 C454.95,683.73 456.59,683.35 458.22,682.97 C459.85,682.58 461.48,682.19 463.12,681.81 C464.75,681.42 466.38,681.02 468.01,680.63 C469.65,680.24 471.28,679.85 472.91,679.45 C474.54,679.06 476.18,678.67 477.81,678.28 C479.44,677.89 481.07,677.50 482.71,677.12 C484.34,676.74 485.97,676.36 487.60,675.99 C489.24,675.62 491.68,675.08 492.50,674.90" fill="none" stroke="#30475e" stroke-width="1.2"/>
<path d="M301.50,691.98 C302.32,692.20 304.76,692.89 306.40,693.32 C308.03,693.75 309.66,694.15 311.29,694.54 C312.93,694.93 314.56,695.30 316.19,695.65 C317.82,696.00 319.46,696.34 321.09,696.66 C322.72,696.98 324.35,697.28 325.99,697.57 C327.62,697.86 329.25,698.13 330.88,698.39 C332.52,698.65 334.15,698.90 335.78,699.13 C337.41,699.36 339.05,699.58 340.68,699.78 C342.31,699.99 343.94,700.18 345.58,700.35 C347.21,700.53 348.84,700.69 350.47,700.84 C352.11,700.98 353.74,701.11 355.37,701.23 C357.00,701.35 358.64,701.45 360.27,701.53 C361.90,701.61 363.53,701.68 365.17,701.73 C366.80,701.78 368.43,701.82 370.06,701.83 C371.70,701.84 373.33,701.84 374.96,701.82 C376.59,701.79 378.23,701.75 379.86,701.68 C381.49,701.62 383.12,701.53 384.76,701.42 C386.39,701.32 388.02,701.18 389.65,701.03 C391.29,700.87 392.92,700.69 394.55,700.49 C396.18,700.28 397.82,700.05 399.45,699.80 C401.08,699.54 402.71,699.25 404.35,698.94 C405.98,698.63 407.61,698.29 409.24,697.92 C410.88,697.54 412.51,697.14 414.14,696.71 C415.77,696.28 417.41,695.82 419.04,695.32 C420.67,694.83 422.30,694.30 423.94,693.74 C425.57,693.18 427.20,692.59 428.83,691.97 C430.47,691.34 432.10,690.68 433.73,689.98 C435.36,689.29 437.00,688.56 438.63,687.79 C440.26,687.03 441.89,686.23 443.53,685.40 C445.16,684.56 446.79,683.69 448.42,682.79 C450.06,681.88 451.69,680.94 453.32,679.97 C454.95,679.00 456.59,677.99 458.22,676.94 C459.85,675.90 461.48,674.82 463.12,673.71 C464.75,672.60 466.38,671.46 468.01,670.28 C469.65,669.11 471.28,667.90 472.91,666.67 C474.54,665.43 476.18,664.16 477.81,662.87 C479.44,661.58 481.07,660.25 482.71,658.91 C484.34,657.56 485.97,656.19 487.60,654.80 C489.24,653.40 491.68,651.26 492.50,650.55" fill="none" stroke="#763c45" stroke-width="1.2"/>
<line x1="295.30" y1="710.20" x2="499.10" y2="710.20" stroke="#fff" stroke-opacity="0.22" stroke-width="1"/>
<line x1="295.30" y1="630.90" x2="499.10" y2="630.90" stroke="#fff" stroke-opacity="0.22" stroke-width="1"/>
<line x1="295.30" y1="545.0" x2="295.30" y2="796.5" stroke="#82888c" stroke-width="1.25"/>
<line x1="294.70" y1="795.95" x2="499.10" y2="795.95" stroke="#82888c" stroke-width="1.25"/>
<line x1="291.30" y1="789.50" x2="295.30" y2="789.50" stroke="#82888c" stroke-width="1"/>
<text transform="translate(287.00,790.20) rotate(-90)" text-anchor="middle" font-size="9.4" fill="#1c1c1c" stroke="#1c1c1c" stroke-width="0.27">0</text>
<line x1="291.30" y1="710.20" x2="295.30" y2="710.20" stroke="#82888c" stroke-width="1"/>
<text transform="translate(287.00,710.20) rotate(-90)" text-anchor="middle" font-size="9.4" fill="#1c1c1c" stroke="#1c1c1c" stroke-width="0.27">.5</text>
<line x1="291.30" y1="630.90" x2="295.30" y2="630.90" stroke="#82888c" stroke-width="1"/>
<text transform="translate(287.00,630.90) rotate(-90)" text-anchor="middle" font-size="9.4" fill="#1c1c1c" stroke="#1c1c1c" stroke-width="0.27">1</text>
<line x1="291.30" y1="551.60" x2="295.30" y2="551.60" stroke="#82888c" stroke-width="1"/>
<text transform="translate(287.00,551.60) rotate(-90)" text-anchor="middle" font-size="9.4" fill="#1c1c1c" stroke="#1c1c1c" stroke-width="0.27">1.5</text>
<line x1="301.55" y1="795.5" x2="301.55" y2="799.5" stroke="#82888c" stroke-width="1"/>
<text x="301.35" y="810.00" font-size="9.4" text-anchor="middle" stroke="#1c1c1c" stroke-width="0.27" fill="#1c1c1c">45</text>
<line x1="339.72" y1="795.5" x2="339.72" y2="799.5" stroke="#82888c" stroke-width="1"/>
<text x="339.52" y="810.00" font-size="9.4" text-anchor="middle" stroke="#1c1c1c" stroke-width="0.27" fill="#1c1c1c">55</text>
<line x1="377.89" y1="795.5" x2="377.89" y2="799.5" stroke="#82888c" stroke-width="1"/>
<text x="377.69" y="810.00" font-size="9.4" text-anchor="middle" stroke="#1c1c1c" stroke-width="0.27" fill="#1c1c1c">65</text>
<line x1="416.06" y1="795.5" x2="416.06" y2="799.5" stroke="#82888c" stroke-width="1"/>
<text x="415.86" y="810.00" font-size="9.4" text-anchor="middle" stroke="#1c1c1c" stroke-width="0.27" fill="#1c1c1c">75</text>
<line x1="454.23" y1="795.5" x2="454.23" y2="799.5" stroke="#82888c" stroke-width="1"/>
<text x="454.03" y="810.00" font-size="9.4" text-anchor="middle" stroke="#1c1c1c" stroke-width="0.27" fill="#1c1c1c">85</text>
<line x1="492.40" y1="795.5" x2="492.40" y2="799.5" stroke="#82888c" stroke-width="1"/>
<text x="492.20" y="810.00" font-size="9.4" text-anchor="middle" stroke="#1c1c1c" stroke-width="0.27" fill="#1c1c1c">95</text>
<text x="352.80" y="820.90" font-size="9.8" textLength="88.25" lengthAdjust="spacingAndGlyphs" stroke="#1c1c1c" stroke-width="0.27" fill="#1c1c1c">Attained age (years)</text>
<text transform="translate(275.70,724.8) rotate(-90)" font-size="9.8" textLength="108.8" lengthAdjust="spacingAndGlyphs" fill="#1c1c1c" stroke="#1c1c1c" stroke-width="0.27">Predicted M protein (g/L)</text>
<text x="396.90" y="541.00" font-size="10.7" text-anchor="middle" stroke="#1c1c1c" stroke-width="0.27" fill="#1c1c1c">Females</text>
<text x="268.20" y="526.80" font-size="11.9" stroke="#1e2a3a" stroke-width="0.27" fill="#1e2a3a">b)</text>
<rect x="76.2" y="840" width="360.2" height="23.6" fill="#fff" stroke="#383838" stroke-width="1.35"/>
<line x1="81" y1="851.8" x2="130.9" y2="851.8" stroke="#30475e" stroke-width="1.3"/>
<line x1="271" y1="851.8" x2="320.9" y2="851.8" stroke="#763c45" stroke-width="1.3"/>
<text x="138.80" y="856.90" font-size="13.3" textLength="108.60" lengthAdjust="spacingAndGlyphs" stroke="#111" stroke-width="0.27" fill="#111">Before vaccination</text>
<text x="328.20" y="856.90" font-size="13.3" textLength="98.40" lengthAdjust="spacingAndGlyphs" stroke="#111" stroke-width="0.27" fill="#111">After vaccination</text>
</svg>
</body></html>
